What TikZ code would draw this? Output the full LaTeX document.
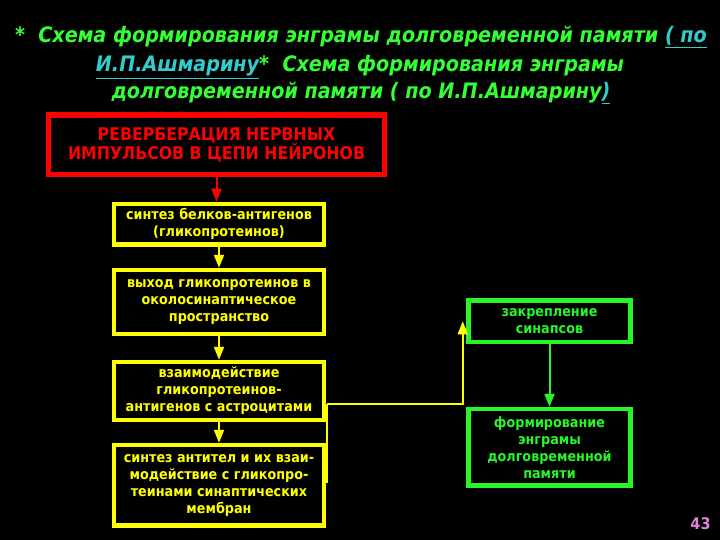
\documentclass[tikz,border=0pt]{standalone}
\usepackage{fontspec}
\setmainfont{Liberation Sans}
\newfontfamily\titlefont{DejaVu Sans Condensed}
\newfontfamily\boxfont{DejaVu Sans Condensed}
\usetikzlibrary{arrows.meta}
\definecolor{tgreen}{RGB}{51,255,51}
\definecolor{tcyan}{RGB}{51,204,204}
\definecolor{bred}{RGB}{255,0,0}
\definecolor{byellow}{RGB}{255,255,0}
\definecolor{bgreen}{RGB}{40,245,40}
\definecolor{pnum}{RGB}{224,128,224}
\begin{document}
\begin{tikzpicture}[x=1pt,y=-1pt,
  titletext/.style={text=tgreen,font=\titlefont\bfseries\itshape\fontsize{21.3}{24}\selectfont,anchor=base,inner sep=0pt},
  redbox/.style={draw=bred,line width=5.5pt,text=bred,font=\boxfont\bfseries\fontsize{17.5}{19.5}\selectfont,align=center,inner sep=0pt,minimum width=336pt,minimum height=59.5pt},
  ybox/.style={draw=byellow,line width=4.5pt,text=byellow,font=\boxfont\bfseries\fontsize{14.2}{17}\selectfont,align=center,inner sep=0pt,minimum width=210pt},
  gbox/.style={draw=bgreen,line width=4.5pt,text=bgreen,font=\boxfont\bfseries\fontsize{14.2}{17}\selectfont,align=center,inner sep=0pt,minimum width=162pt},
  tip/.style={-{Triangle[width=10pt,length=13pt]}},
  rcon/.style={draw=bred,line width=2pt,tip},
  ycon/.style={draw=byellow,line width=2pt,tip},
  ythin/.style={draw=byellow,line width=1.6pt},
  gcon/.style={draw=bgreen,line width=2pt,tip}]
\fill[black] (0,0) rectangle (720,540);
\useasboundingbox (0,0) rectangle (720,540);

\node[titletext] (t1) at (361,43) {*~~Схема формирования энграмы долговременной памяти \textcolor{tcyan}{\underline{( по}}};
\node[titletext] (t2) at (360,72) {\textcolor{tcyan}{\underline{И.П.Ашмарину}}*~~Схема формирования энграмы};
\node[titletext] (t3) at (361,99) {долговременной памяти ( по И.П.Ашмарину\textcolor{tcyan}{\underline{)}}};

\node[redbox] (red) at (216.5,144.75) {РЕВЕРБЕРАЦИЯ НЕРВНЫХ\\ИМПУЛЬСОВ В ЦЕПИ НЕЙРОНОВ};

\node[ybox,minimum height=40.5pt] (y1) at (219,224.25) {синтез белков-антигенов\\(гликопротеинов)};
\node[ybox,minimum height=64pt] (y2) at (219,302) {выход гликопротеинов в\\околосинаптическое\\пространство};
\node[ybox,minimum height=58pt] (y3) at (219,391) {взаимодействие\\гликопротеинов-\\антигенов с астроцитами};
\node[ybox,minimum height=80.5pt] (y4) at (219,485.25) {синтез антител и их взаи-\\модействие с гликопро-\\теинами синаптических\\мембран};

\node[gbox,minimum height=41.5pt] (g1) at (549.5,321.25) {закрепление\\синапсов};
\node[gbox,minimum height=76.5pt] (g2) at (549.5,447.25) {формирование\\энграмы\\долговременной\\памяти};

\node[text=pnum,font=\boxfont\bfseries\fontsize{16}{18}\selectfont,inner sep=0pt] (num) at (700.5,524) {43};

\draw[rcon] (red.south) -- (red.south |- y1.north);
\draw[ycon] (y1.south) -- (y2.north);
\draw[ycon] (y2.south) -- (y3.north);
\draw[ycon] (y3.south) -- (y4.north);

\coordinate (c1) at (327,483);
\coordinate (c2) at (327,404);
\draw[ythin] (c1) -- (c2);
\draw[ythin,tip] (c2) -| ([xshift=-3.5pt]g1.west);

\draw[gcon] (g1.south) -- (g2.north);
\end{tikzpicture}
\end{document}
